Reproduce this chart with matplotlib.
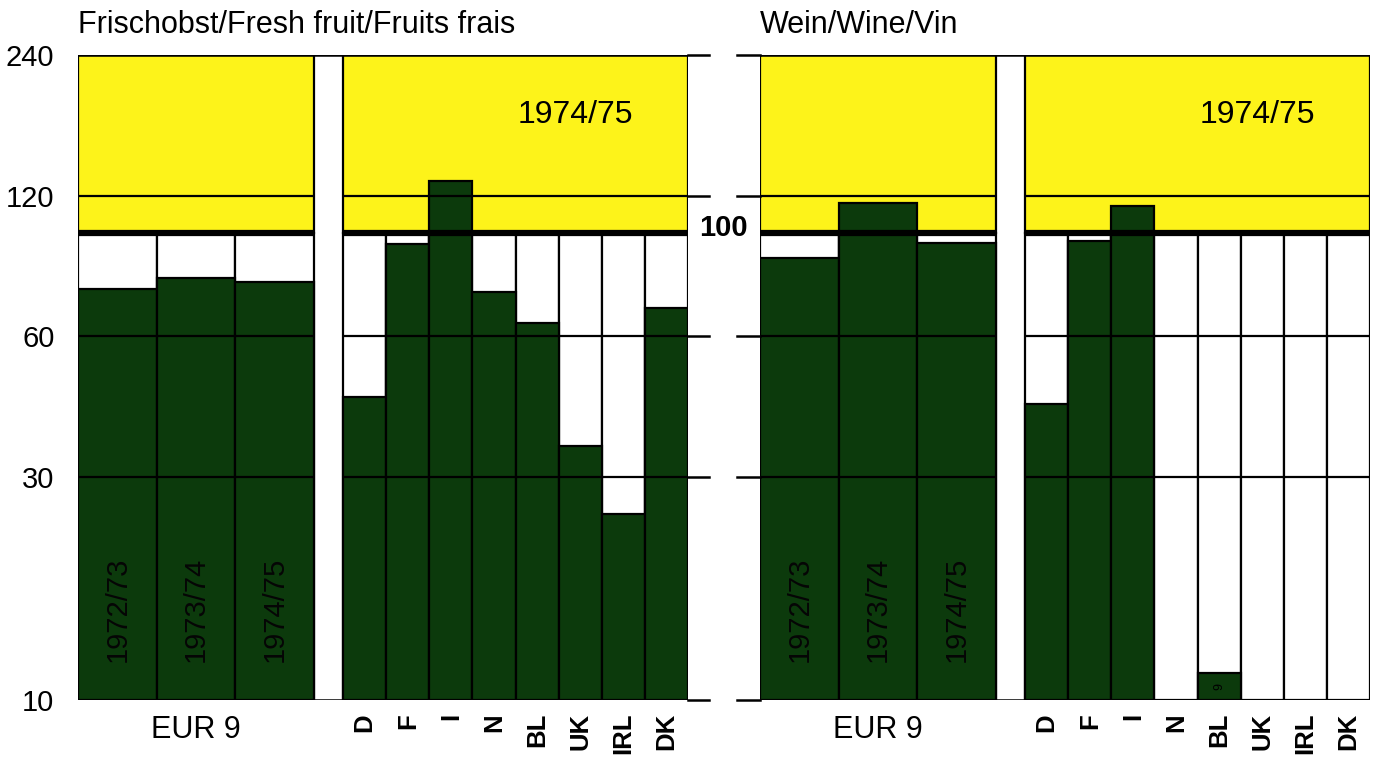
import numpy as np
import matplotlib
matplotlib.use("Agg")
import matplotlib.pyplot as plt
from matplotlib.ticker import NullLocator

plt.rcParams['font.family'] = ['Liberation Sans', 'DejaVu Sans']

years = ['1972/73', '1973/74', '1974/75']
countries = ['D', 'F', 'I', 'N', 'BL', 'UK', 'IRL', 'DK']
fruit_eur = [75.6, 80.0, 78.6]
fruit_cty = [44.4, 94.7, 129.0, 74.8, 64.0, 35.0, 25.0, 69.0]
wine_eur = [88.4, 116.0, 95.0]
wine_cty = [43.0, 96.0, 114.0, np.nan, 11.4, np.nan, np.nan, np.nan]
wine_bl_label = '9'
yticks = [10, 30, 60, 120, 240]

YELLOW = '#fdf31a'
GREEN = '#0c3a0c'
W_EUR = 1.0
GAP = 0.37
W_CTY = 0.548

fig = plt.figure(figsize=(13.81, 7.58), dpi=100)
fig.patch.set_facecolor('white')

bot = 1 - 700 / 758
hgt = 645 / 758
ax1 = fig.add_axes([78 / 1381, bot, 610 / 1381, hgt])
ax2 = fig.add_axes([760 / 1381, bot, 610 / 1381, hgt])


def panel(ax, eur, cty, title):
    x_eur = np.arange(len(eur)) * W_EUR
    c0 = len(eur) * W_EUR + GAP
    x_cty = c0 + np.arange(len(cty)) * W_CTY
    xmax = c0 + len(cty) * W_CTY
    ax.set_yscale('log')
    ax.set_ylim(10, 240)
    ax.set_xlim(0, xmax)
    for s in ax.spines.values():
        s.set_visible(False)

    # yellow boxes above 100
    ax.bar([0, c0], 140, bottom=100, width=[len(eur) * W_EUR, len(cty) * W_CTY],
           align='edge', color=YELLOW, edgecolor='black', lw=1.6, zorder=1)
    # white columns below 100
    ax.bar(x_eur, 90, bottom=10, width=W_EUR, align='edge', color='white',
           edgecolor='black', lw=1.6, zorder=1)
    ax.bar(x_cty, 90, bottom=10, width=W_CTY, align='edge', color='white',
           edgecolor='black', lw=1.6, zorder=1)
    # data bars
    ax.bar(x_eur, np.array(eur) - 10, bottom=10, width=W_EUR, align='edge',
           color=GREEN, edgecolor='black', lw=1.6, zorder=2)
    cv = np.array(cty)
    ok = ~np.isnan(cv)
    ax.bar(x_cty[ok], cv[ok] - 10, bottom=10, width=W_CTY, align='edge',
           color=GREEN, edgecolor='black', lw=1.6, zorder=2)

    # grid lines over the groups
    for g in [120, 60, 30]:
        ax.hlines(g, 0, len(eur) * W_EUR, color='black', lw=1.6, zorder=3)
        ax.hlines(g, c0, xmax, color='black', lw=1.6, zorder=3)
    ax.hlines(100, 0, len(eur) * W_EUR, color='black', lw=4.5, zorder=4)
    ax.hlines(100, c0, xmax, color='black', lw=4.5, zorder=4)
    for g in [240, 10]:
        ax.hlines(g, 0, xmax, color='black', lw=1.8, zorder=4)

    # labels
    for x, y in zip(x_eur, years):
        ax.text(x + W_EUR / 2, 15.6, y, rotation=90, ha='center', va='center',
                fontsize=21, color='#050505', zorder=5)
    ax.text(0.815, 0.907, '1974/75', transform=ax.transAxes, ha='center',
            va='center', fontsize=23, zorder=5)
    tr = ax.get_xaxis_transform()
    ax.text(len(eur) * W_EUR / 2, -0.047, 'EUR 9', transform=tr, ha='center',
            va='center', fontsize=22)
    for x, c in zip(x_cty, countries):
        ax.text(x + W_CTY / 2, -0.02, c, transform=tr, ha='center', va='top',
                rotation=90, fontsize=18.5, fontweight='bold')
    ax.set_xticks([])
    ax.yaxis.set_minor_locator(NullLocator())
    ax.text(0, 1.047, title, transform=ax.transAxes, ha='left', va='center',
            fontsize=22)
    return x_cty


panel(ax1, fruit_eur, fruit_cty, 'Frischobst/Fresh fruit/Fruits frais')
x_cty2 = panel(ax2, wine_eur, wine_cty, 'Wein/Wine/Vin')

ax1.set_yticks(yticks, [str(t) for t in yticks])
ax1.tick_params(axis='y', length=0, pad=17, labelsize=21)
ax2.set_yticks([])

# short dashes of the grid between the two panels
for g in [240, 120, 60, 30, 10]:
    ax2.axhline(g, xmin=(688 - 760) / 610, xmax=(709 - 760) / 610, color='black',
                lw=1.8, clip_on=False)
    ax2.axhline(g, xmin=(737 - 760) / 610, xmax=0, color='black', lw=1.8,
                clip_on=False)

ax2.text(x_cty2[4] + W_CTY / 2, 10.7, wine_bl_label, rotation=90, ha='center',
         va='center', fontsize=9, color='black', zorder=5)
fig.text(723 / 1381, 1 - 228 / 758, '100', ha='center', va='center',
         fontsize=21, fontweight='bold')

fig.savefig('out.png', dpi=100, facecolor='white')
